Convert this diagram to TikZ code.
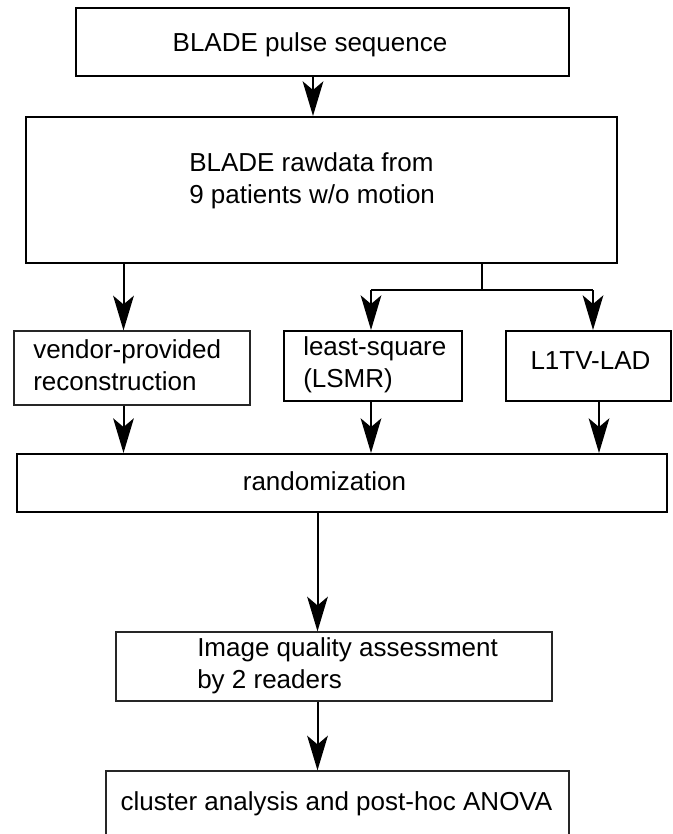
\documentclass[tikz,border=0pt]{standalone}
\usepackage{fontspec}
\setmainfont{Liberation Sans}
\usepackage{tikz}
\usetikzlibrary{arrows.meta,positioning,fit}
\tikzset{
  stepbox/.style={rectangle, draw=black, line width=1.5pt, inner sep=0pt},
  thinbox/.style={rectangle, draw=black!85, line width=0.9pt, inner sep=0pt},
  btext/.style={inner sep=0pt, align=left, font=\fontsize{19.5}{24}\selectfont},
  flowline/.style={line width=1.5pt},
  flowarr/.style={flowline, -{Stealth[length=26pt,width=15.5pt,inset=6.5pt]}},
}

\begin{document}
\begin{tikzpicture}[x=0.75pt,y=-0.75pt]
  \useasboundingbox (0,0) rectangle (672,834);
  \clip (0,0) rectangle (672,834);

  % boxes
  \node[stepbox, fit={(76,8) (569,76)}] (pulse) {};
  \node[stepbox, fit={(26,117) (617,263)}] (raw) {};
  \node[thinbox, fit={(14,331) (250,405)}] (vendor) {};
  \node[stepbox, fit={(284,331) (462,401)}] (lsmr) {};
  \node[stepbox, fit={(506,331) (671,401)}] (l1tv) {};
  \node[stepbox, fit={(17,454) (667,512)}] (random) {};
  \node[thinbox, fit={(116,632) (552,701)}] (iqa) {};
  \node[thinbox, fit={(106,771) (569,860)}] (cluster) {};

  % box texts
  \node[btext] (pulsetxt) at (310,45) {BLADE pulse sequence};
  \node[btext, anchor=west] (rawtxt) at (189,181) {BLADE rawdata from\\9 patients w/o motion};
  \node[btext, anchor=west] (vendortxt) at (33,365) {vendor-provided\\reconstruction};
  \node[btext, anchor=west] (lsmrtxt) at (303,365) {least-square\\(LSMR)};
  \node[btext] (l1tvtxt) at (590.5,361) {L1TV-LAD};
  \node[btext] (randomtxt) at (324.5,481) {randomization};
  \node[btext, anchor=west] (iqatxt) at (197,666) {Image quality assessment\\by 2 readers};
  \node[btext] (clustertxt) at (336.5,804) {cluster analysis and post-hoc ANOVA};

  % arrow lanes
  \coordinate (xa) at (313,0);
  \coordinate (xv) at (123.5,0);
  \coordinate (xl) at (371,0);
  \coordinate (xr) at (593,0);
  \coordinate (xo) at (599,0);
  \coordinate (xq) at (317.5,0);
  \coordinate (split) at (482,290);

  \draw[flowarr] (pulse.south -| xa) -- (raw.north -| xa);
  \draw[flowarr] (raw.south -| xv) -- (vendor.north -| xv);

  % branch to the two reconstructions
  \draw[flowline] (raw.south -| split) -- (split);
  \draw[flowline] (split -| xl) -- (split -| xr);
  \draw[flowarr] (split -| xl) -- (lsmr.north -| xl);
  \draw[flowarr] (split -| xr) -- (l1tv.north -| xr);

  % into randomization
  \draw[flowarr] (vendor.south -| xv) -- (random.north -| xv);
  \draw[flowarr] (lsmr.south -| xl) -- (random.north -| xl);
  \draw[flowarr] (l1tv.south -| xo) -- (random.north -| xo);

  \draw[flowarr] (random.south -| xq) -- (iqa.north -| xq);
  \draw[flowarr] (iqa.south -| xq) -- (cluster.north -| xq);
\end{tikzpicture}
\end{document}
